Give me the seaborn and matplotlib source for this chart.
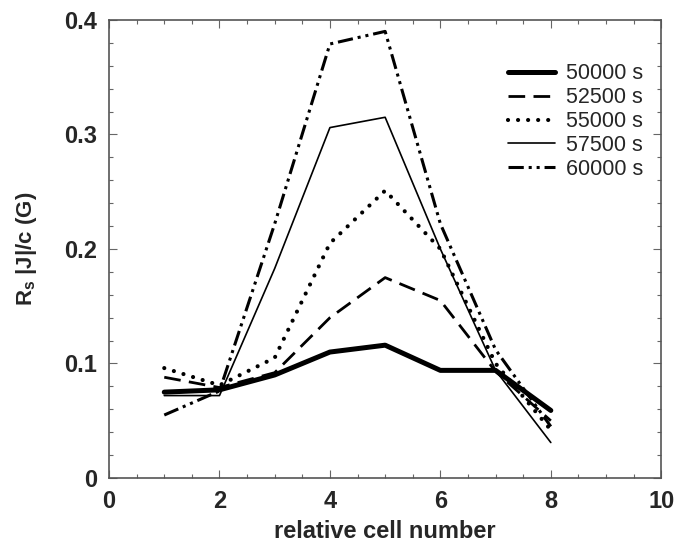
import matplotlib
matplotlib.use("Agg")
import matplotlib.pyplot as plt
import seaborn as sns
import pandas as pd
from matplotlib.ticker import MultipleLocator

sns.set_theme(style="white")
plt.rcParams['font.family'] = ['Liberation Sans', 'DejaVu Sans']
plt.rcParams['mathtext.fontset'] = 'custom'
plt.rcParams['mathtext.rm'] = 'Liberation Sans:bold'
plt.rcParams['mathtext.bf'] = 'Liberation Sans:bold'
plt.rcParams['mathtext.default'] = 'rm'

cells = [1, 2, 3, 4, 5, 6, 7, 8]
s50000 = [0.075, 0.077, 0.090, 0.110, 0.116, 0.094, 0.094, 0.059]
s52500 = [0.088, 0.079, 0.092, 0.140, 0.175, 0.155, 0.093, 0.050]
s55000 = [0.096, 0.081, 0.105, 0.205, 0.251, 0.200, 0.100, 0.042]
s57500 = [0.072, 0.072, 0.183, 0.306, 0.315, 0.200, 0.094, 0.031]
s60000 = [0.055, 0.076, 0.222, 0.379, 0.390, 0.222, 0.112, 0.045]
labels = ["50000 s", "52500 s", "55000 s", "57500 s", "60000 s"]
series = [s50000, s52500, s55000, s57500, s60000]

styles = [
    dict(lw=3.6, ls='-'),
    dict(lw=2.0, ls=(0, (6, 3))),
    dict(lw=3.0, ls=(0, (0.01, 2.4)), cap='round'),
    dict(lw=1.2, ls='-'),
    dict(lw=2.2, ls=(0, (5, 1.6, 1, 1.6, 1, 1.6))),
]

fig = plt.figure(figsize=(6.99, 5.46), dpi=100)
ax = fig.add_axes([0.156, 0.1245, 0.79, 0.839])
for lab, vals, st in zip(labels, series, styles):
    df = pd.DataFrame({"cell": cells, "val": vals})
    sns.lineplot(data=df, x="cell", y="val", ax=ax, color="black", label=lab,
                 linewidth=st['lw'], linestyle=st['ls'])
    if 'cap' in st:
        ax.lines[-1].set_dash_capstyle(st['cap'])

ax.set_xlim(0, 10)
ax.set_ylim(0, 0.4)
ax.set_xticks([0, 2, 4, 6, 8, 10])
ax.set_xticklabels(["0", "2", "4", "6", "8", "10"])
ax.set_yticks([0, 0.1, 0.2, 0.3, 0.4])
ax.set_yticklabels(["0", "0.1", "0.2", "0.3", "0.4"])
ax.xaxis.set_minor_locator(MultipleLocator(0.5))
ax.yaxis.set_minor_locator(MultipleLocator(0.02))
ax.tick_params(which='both', direction='in', top=True, right=True, bottom=True, left=True,
               color='#666666', width=0.8)
ax.tick_params(which='major', length=6, labelsize=17, pad=8.5)
ax.tick_params(which='minor', length=3)
for lbl in ax.get_xticklabels() + ax.get_yticklabels():
    lbl.set_fontweight('bold')
for sp in ax.spines.values():
    sp.set_color('#555555')
    sp.set_linewidth(1.2)
ax.set_xlabel("relative cell number", fontsize=17, fontweight='bold', labelpad=5)
ax.set_ylabel(r"R$_{\mathbf{s}}$ |J|/c (G)", fontsize=16, fontweight='bold', labelpad=18)
leg = ax.legend(loc='upper right', frameon=False, fontsize=15.5, handlelength=2.2,
                handletextpad=0.5, labelspacing=0.13, borderpad=0,
                bbox_to_anchor=(0.967, 0.905), borderaxespad=0)
fig.savefig("out.png", dpi=100)
